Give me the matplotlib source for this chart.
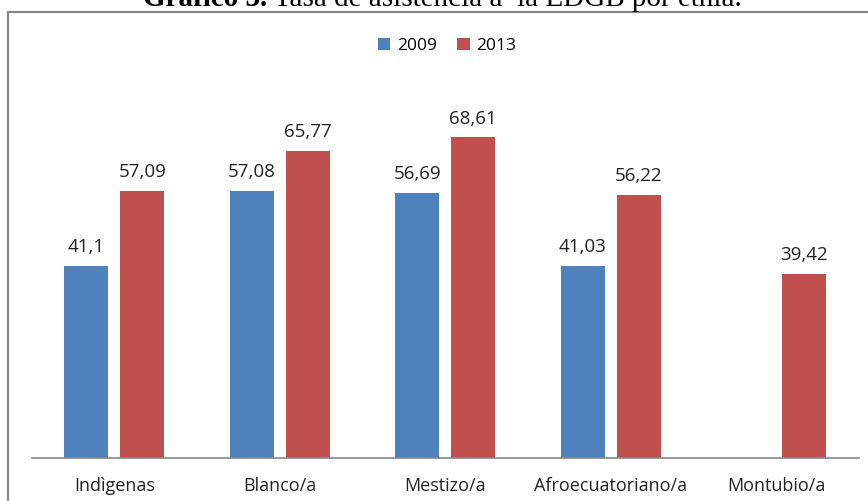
import numpy as np
import matplotlib
matplotlib.use("Agg")
import matplotlib.pyplot as plt
from matplotlib.patches import Rectangle

# tasa de asistencia por etnia
etnias = ["Indìgenas", "Blanco/a", "Mestizo/a", "Afroecuatoriano/a", "Montubio/a"]
tasa_2009 = [41.1, 57.08, 56.69, 41.03, np.nan]
tasa_2013 = [57.09, 65.77, 68.61, 56.22, 39.42]
etiq_2009 = ["41,1", "57,08", "56,69", "41,03", ""]
etiq_2013 = ["57,09", "65,77", "68,61", "56,22", "39,42"]

azul = "#4F81BD"
rojo = "#C0504D"

W, H = 868, 501
fig = plt.figure(figsize=(W / 100, H / 100), dpi=100)

# marco gris del grafico
fig.patches.append(Rectangle((8 / W, -0.1), 1.2, (H - 12) / H + 0.1, transform=fig.transFigure,
                             fill=False, edgecolor="#878787", linewidth=1.6))

# titulo: parte en negrita + resto normal, centrado a mano
yt = 1 - 6 / H
t1 = fig.text(0, yt, "Gráfico 3.", ha="left", va="baseline",
              fontsize=21, family="Liberation Serif", weight="bold")
t2 = fig.text(0, yt, " Tasa de asistencia a  la EDGB por etnia.", ha="left", va="baseline",
              fontsize=21, family="Liberation Serif")
r = fig.canvas.get_renderer()
w1 = t1.get_window_extent(r).width
w2 = t2.get_window_extent(r).width
x0 = 442.5 - (w1 + w2) / 2
t1.set_x(x0 / W)
t2.set_x((x0 + w1) / W)

ax = fig.add_axes([31.5 / W, (H - 458) / H, (859 - 31.5) / W, (458 - 70) / H])

x = np.arange(len(etnias))
ancho = 0.266
desp = 0.169
b1 = ax.bar(x - desp, tasa_2009, ancho, color=azul, label="2009")
b2 = ax.bar(x + desp, tasa_2013, ancho, color=rojo, label="2013")

for barras, vals, etiq in [(b1, tasa_2009, etiq_2009), (b2, tasa_2013, etiq_2013)]:
    for b, v, t in zip(barras, vals, etiq):
        if np.isnan(v):
            continue
        ax.annotate(t, (b.get_x() + b.get_width() / 2, v), xytext=(0, 7),
                    textcoords="offset points", ha="center", va="bottom",
                    fontsize=13.5, color="#222222", family="Open Sans")

ax.set_xlim(-0.5, 4.5)
ax.set_ylim(0, 83)
ax.set_yticks([])
ax.set_xticks(x)
ax.set_xticklabels(etnias, fontsize=13, family="Open Sans", color="#222222")
ax.tick_params(axis="x", length=0, pad=14)
for s in ["top", "left", "right"]:
    ax.spines[s].set_visible(False)
ax.spines["bottom"].set_color("#878787")
ax.spines["bottom"].set_linewidth(1.2)

ax.legend(loc="upper center", bbox_to_anchor=(447 / W, 1 - 22 / H), bbox_transform=fig.transFigure,
          ncol=2, frameon=False, handlelength=0.7, handleheight=0.7, handletextpad=0.4,
          columnspacing=1.2, prop={"family": "Open Sans", "size": 12.5})

fig.savefig("out.png", dpi=100)
